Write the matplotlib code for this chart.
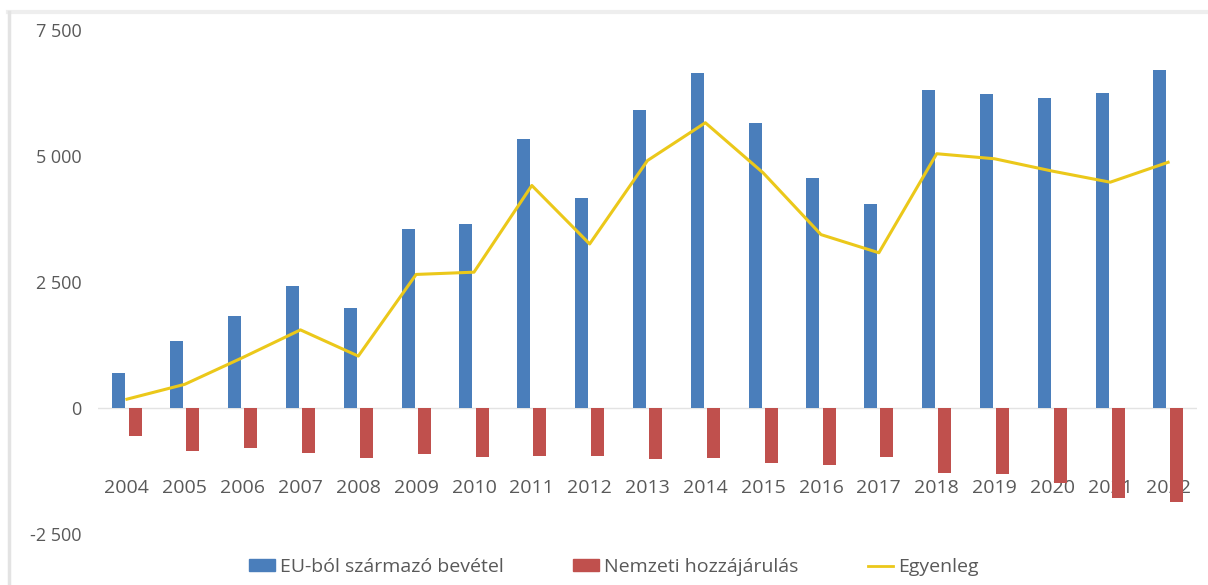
import numpy as np
import matplotlib.pyplot as plt
from matplotlib.lines import Line2D

years = [str(y) for y in range(2004, 2023)]
eu_income = [690, 1330, 1830, 2420, 1985, 3550, 3650, 5340, 4170, 5910,
             6640, 5650, 4560, 4050, 6310, 6225, 6145, 6245, 6705]
national = [-555, -850, -800, -885, -985, -920, -970, -955, -955, -1020,
            -1000, -1100, -1135, -975, -1285, -1305, -1485, -1780, -1870]
balance = [175, 470, 1000, 1550, 1030, 2650, 2695, 4415, 3255, 4910,
           5660, 4665, 3440, 3080, 5045, 4945, 4700, 4480, 4875]
yticks = [-2500, 0, 2500, 5000, 7500]

BLUE = "#4A7EBB"
RED = "#C0504D"
YELLOW = "#EBC81A"
GREY = "#595959"

plt.rcParams["font.family"] = ["Open Sans", "DejaVu Sans"]

fig = plt.figure(figsize=(12.08, 5.85), dpi=100)
ax = fig.add_axes([98 / 1208, 1 - 534 / 585, (1197 - 98) / 1208, (534 - 30) / 585])

x = np.arange(len(years))
w = 0.225
ax.bar(x - 0.14, eu_income, width=w, color=BLUE, zorder=3)
ax.bar(x + 0.14, national, width=w, color=RED, zorder=3)
ax.plot(x, balance, color=YELLOW, lw=2.2, zorder=4)
ax.axhline(0, color="#E3E3E3", lw=1, zorder=2)

ax.set_xlim(-0.5, len(years) - 0.5)
ax.set_ylim(-2500, 7500)
ax.set_xticks([])
ax.set_yticks(yticks)
ax.set_yticklabels([f"{v:,}".replace(",", " ") for v in yticks])
ax.tick_params(axis="y", length=0, pad=12, labelsize=13, labelcolor=GREY)
for s in ax.spines.values():
    s.set_visible(False)

# year labels sit behind the red bars, like in the source
for xi, lab in zip(x, years):
    ax.text(xi, -1590, lab, ha="center", va="center", fontsize=14,
            color=GREY, zorder=1)

# faint outer frame (top and left edges)
fig.add_artist(Line2D([8 / 1208, 1], [1 - 12 / 585] * 2, color="#EEEEEE", lw=3))
fig.add_artist(Line2D([9 / 1208] * 2, [0, 1 - 12 / 585], color="#E3E3E3", lw=2.5))

handles = [
    plt.Rectangle((0, 0), 1, 1, color=BLUE),
    plt.Rectangle((0, 0), 1, 1, color=RED),
    Line2D([], [], color=YELLOW, lw=2),
]
fig.legend(handles, ["EU-ból származó bevétel", "Nemzeti hozzájárulás", "Egyenleg"],
           loc="center", bbox_to_anchor=(614 / 1208, 1 - 567 / 585), ncol=3, frameon=False,
           fontsize=14, labelcolor=GREY, handlelength=1.3, handleheight=0.55,
           handletextpad=0.25, columnspacing=3.6)

fig.savefig("out.png", dpi=100)
